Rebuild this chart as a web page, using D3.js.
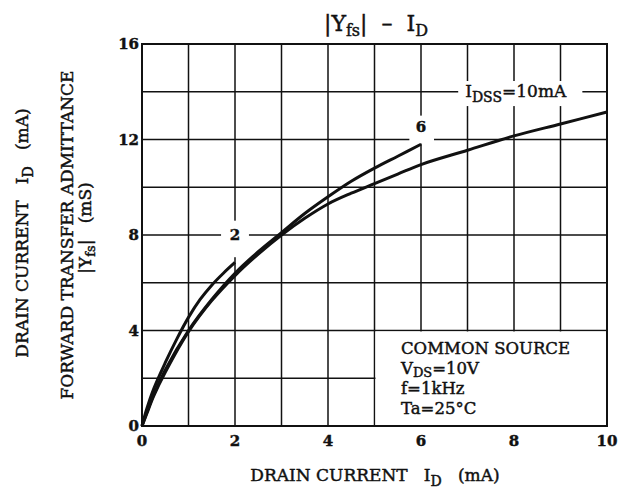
<!DOCTYPE html>
<html>
<head>
<meta charset="utf-8">
<script src="https://cdn.jsdelivr.net/npm/d3@7"></script>
<style>
  body { margin: 0; background: #fff; }
  svg text { font-family: "DejaVu Serif", serif; fill: #111; stroke: #111; stroke-width: 0.45; white-space: pre; }
</style>
</head>
<body>
<div id="chart"></div>
<script>
// curves, x = ID (mA), y = |Yfs| (mS)
const curve2 = [[0,0],[0.1,0.7],[0.25,1.55],[0.5,2.65],[0.75,3.65],[1,4.55],[1.25,5.3],[1.5,5.9],[1.75,6.4],[2,6.85]];
const curve6 = [[0,0],[0.1,0.55],[0.25,1.3],[0.5,2.35],[1,4.0],[1.5,5.3],[2,6.4],[2.5,7.3],[3,8.1],[3.5,8.9],[4,9.6],[4.5,10.25],[5,10.8],[5.5,11.3],[6,11.8]];
const curve10 = [[0,0],[0.1,0.5],[0.25,1.25],[0.5,2.25],[1,3.95],[1.5,5.25],[2,6.3],[2.5,7.2],[3,8.0],[3.5,8.7],[4,9.3],[4.5,9.75],[5,10.15],[5.5,10.55],[6,10.95],[7,11.55],[8,12.15],[9,12.65],[10,13.15]];
const xTicks = [0,2,4,6,8,10];
const yTicks = [0,4,8,12,16];
const xGrid = d3.range(1,10);
const yGrid = d3.range(2,16,2);
const conditions = ["COMMON SOURCE", "VDS=10V", "f=1kHz", "Ta=25°C"];

const width = 623, height = 490;
const margin = {top: 44, right: 16, bottom: 64, left: 142};

const svg = d3.select("#chart").append("svg")
    .attr("width", width)
    .attr("height", height);

const x = d3.scaleLinear().domain([0,10]).range([margin.left, width - margin.right]);
const y = d3.scaleLinear().domain([0,16]).range([height - margin.bottom, margin.top]);

// grid
svg.append("g").selectAll("line").data(xGrid).join("line")
    .attr("x1", d => x(d)).attr("x2", d => x(d))
    .attr("y1", y(0)).attr("y2", y(16))
    .attr("stroke", "#111").attr("stroke-width", 1.5);
svg.append("g").selectAll("line").data(yGrid).join("line")
    .attr("x1", x(0)).attr("x2", x(10))
    .attr("y1", d => y(d)).attr("y2", d => y(d))
    .attr("stroke", "#111").attr("stroke-width", 1.5);

// blank areas behind labels (grid is broken there in the original)
const gaps = [
  {x0: 1.7, x1: 2.3, y0: 7.07, y1: 8.6},
  {x0: 5.75, x1: 6.28, y0: 11.83, y1: 13.0},
  {x0: 6.8, x1: 9.47, y0: 13.4, y1: 14.45}
];
svg.append("g").selectAll("rect").data(gaps).join("rect")
    .attr("x", d => x(d.x0)).attr("width", d => x(d.x1) - x(d.x0))
    .attr("y", d => y(d.y1)).attr("height", d => y(d.y0) - y(d.y1))
    .attr("fill", "#fff");
// condition box
svg.append("rect")
    .attr("x", x(5) + 1).attr("width", x(10) - x(5) - 1)
    .attr("y", y(4) + 1).attr("height", y(0) - y(4) - 1)
    .attr("fill", "#fff");

// frame
svg.append("rect")
    .attr("x", x(0)).attr("y", y(16))
    .attr("width", x(10) - x(0)).attr("height", y(0) - y(16))
    .attr("fill", "none").attr("stroke", "#111").attr("stroke-width", 2);

// curves
const line = d3.line().x(d => x(d[0])).y(d => y(d[1])).curve(d3.curveCatmullRom);
svg.append("g").selectAll("path").data([curve2, curve6, curve10]).join("path")
    .attr("d", line)
    .attr("fill", "none").attr("stroke", "#111").attr("stroke-width", 3);

// tick labels
svg.append("g").selectAll("text").data(xTicks).join("text")
    .attr("x", d => x(d)).attr("y", y(0) + 20)
    .attr("text-anchor", "middle")
    .attr("font-size", 15).attr("font-weight", "bold")
    .text(d => d);
svg.append("g").selectAll("text").data(yTicks).join("text")
    .attr("x", x(0) - 3).attr("y", d => y(d) + 5)
    .attr("text-anchor", "end")
    .attr("font-size", 15).attr("font-weight", "bold")
    .text(d => d);

// curve labels
svg.append("text").attr("x", x(2)).attr("y", y(7.8))
    .attr("text-anchor", "middle").attr("font-size", 15).attr("font-weight", "bold").text("2");
svg.append("text").attr("x", x(6)).attr("y", y(12.3))
    .attr("text-anchor", "middle").attr("font-size", 15).attr("font-weight", "bold").text("6");
const idss = svg.append("text").attr("x", x(6.95)).attr("y", y(13.8))
    .attr("font-size", 17);
idss.append("tspan").text("I");
idss.append("tspan").attr("font-size", 14).attr("dy", 5).text("DSS");
idss.append("tspan").attr("dy", -5).text("=10mA");

// conditions
const cx = x(5.57);
conditions.forEach((c, i) => {
  const t = svg.append("text").attr("font-size", 16.5).attr("x", cx).attr("y", 354 + i * 20);
  if (c.startsWith("VDS")) {
    t.append("tspan").text("V");
    t.append("tspan").attr("font-size", 13).attr("dy", 3).text("DS");
    t.append("tspan").attr("dy", -3).text(c.slice(3));
  } else {
    t.text(c);
  }
});

// title
const title = svg.append("text").attr("x", 376).attr("y", 31)
    .attr("text-anchor", "middle").attr("font-size", 22);
title.append("tspan").text("|Y");
title.append("tspan").attr("font-size", 16).attr("dy", 5).text("fs");
title.append("tspan").attr("dy", -5).text("|  –  I");
title.append("tspan").attr("font-size", 16).attr("dy", 5).text("D");

// x axis title
const xt = svg.append("text").attr("x", 375).attr("y", 481)
    .attr("text-anchor", "middle").attr("font-size", 17);
xt.append("tspan").text("DRAIN CURRENT   I");
xt.append("tspan").attr("font-size", 14).attr("dy", 5).text("D");
xt.append("tspan").attr("dy", -5).text("   (mA)");

// y axis titles
const yt1 = svg.append("text").attr("transform", "translate(28,233) rotate(-90)")
    .attr("text-anchor", "middle").attr("font-size", 17);
yt1.append("tspan").text("DRAIN CURRENT   I");
yt1.append("tspan").attr("font-size", 14).attr("dy", 5).text("D");
yt1.append("tspan").attr("dy", -5).text("   (mA)");

svg.append("text").attr("transform", "translate(73,235) rotate(-90)")
    .attr("text-anchor", "middle").attr("font-size", 17)
    .text("FORWARD TRANSFER ADMITTANCE");
const yt3 = svg.append("text").attr("transform", "translate(91,228) rotate(-90)")
    .attr("text-anchor", "middle").attr("font-size", 17);
yt3.append("tspan").text("|Y");
yt3.append("tspan").attr("font-size", 13).attr("dy", 4).text("fs");
yt3.append("tspan").attr("dy", -4).text("|   (mS)");
</script>
</body>
</html>
